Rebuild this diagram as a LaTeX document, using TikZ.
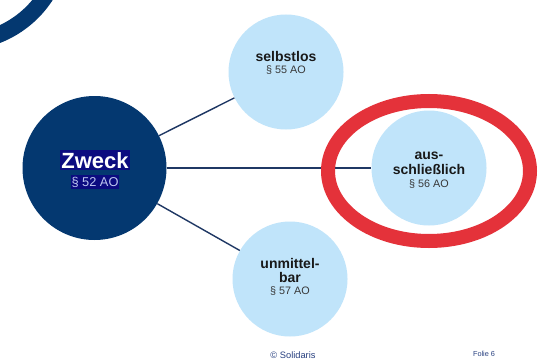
\documentclass[tikz,border=0pt]{standalone}
\usepackage{fontspec}
\setmainfont{Liberation Sans}
\definecolor{navy}{RGB}{4,56,112}
\definecolor{lineblue}{RGB}{31,56,100}
\definecolor{lightblue}{RGB}{192,228,250}
\definecolor{ringred}{RGB}{228,50,58}
\definecolor{hlblue}{RGB}{12,12,128}
\definecolor{hltext}{RGB}{190,200,240}
\definecolor{foot}{RGB}{40,64,128}
\begin{document}
\begin{tikzpicture}[x=1pt,y=-1pt,
  bigcirc/.style={circle,fill=navy,inner sep=0pt,minimum size=144pt},
  smallcirc/.style={circle,fill=lightblue,inner sep=0pt,minimum size=115pt},
  conn/.style={draw=lineblue,line width=1.4pt},
  title/.style={anchor=base,inner sep=0pt,font=\bfseries\fontsize{14}{14}\selectfont,text=black!90},
  para/.style={anchor=base,inner sep=0pt,font=\fontsize{10.8}{11}\selectfont,text=black!78},
  hl/.style={anchor=base,fill=hlblue,inner xsep=1pt,inner ysep=2pt}
]
\useasboundingbox (0,0) rectangle (545,361);
\fill[white] (0,0) rectangle (545,361);
% decorative arc top-left
\draw[navy,line width=16.5pt] (-40,-60) circle (102.2pt);
% circles
\node[bigcirc] (zweck) at (94.5,168) {};
\node[smallcirc] (selbstlos) at (286,72) {};
\node[smallcirc] (ausschl) at (429,168) {};
\node[smallcirc] (unmittelbar) at (290,279) {};
% connectors
\draw[conn] (zweck) -- (selbstlos);
\draw[conn] (zweck) -- (ausschl);
\draw[conn] (zweck) -- (unmittelbar);
% red ring
\draw[ringred,line width=14pt] (429,171) ellipse [x radius=101pt,y radius=70pt];
% Zweck texts
\node[hl,font=\bfseries\fontsize{22}{22}\selectfont,text=white] (zweckt) at (95,168) {Zweck};
\node[hl,font=\fontsize{12.8}{13}\selectfont,text=hltext,inner ysep=1.5pt] (zweckp) at (95,186) {§ 52 AO};
% selbstlos
\node[title] (t1) at (286,61) {selbstlos};
\node[para] (p1) at (286,73) {§ 55 AO};
% ausschließlich
\node[title] (t2a) at (429,159) {aus-};
\node[title] (t2b) at (429,174) {schließlich};
\node[para] (p2) at (429,187) {§ 56 AO};
% unmittelbar
\node[title] (t3a) at (290,268) {unmittel-};
\node[title] (t3b) at (290,282) {bar};
\node[para] (p3) at (290,294) {§ 57 AO};
% footer
\node[anchor=base,inner sep=0pt,font=\fontsize{9.3}{10}\selectfont,text=foot] (copy) at (293,358) {© Solidaris};
\node[anchor=base,inner sep=0pt,font=\fontsize{7.3}{8}\selectfont,text=foot] (folie) at (484,356) {Folie 6};
\end{tikzpicture}
\end{document}
